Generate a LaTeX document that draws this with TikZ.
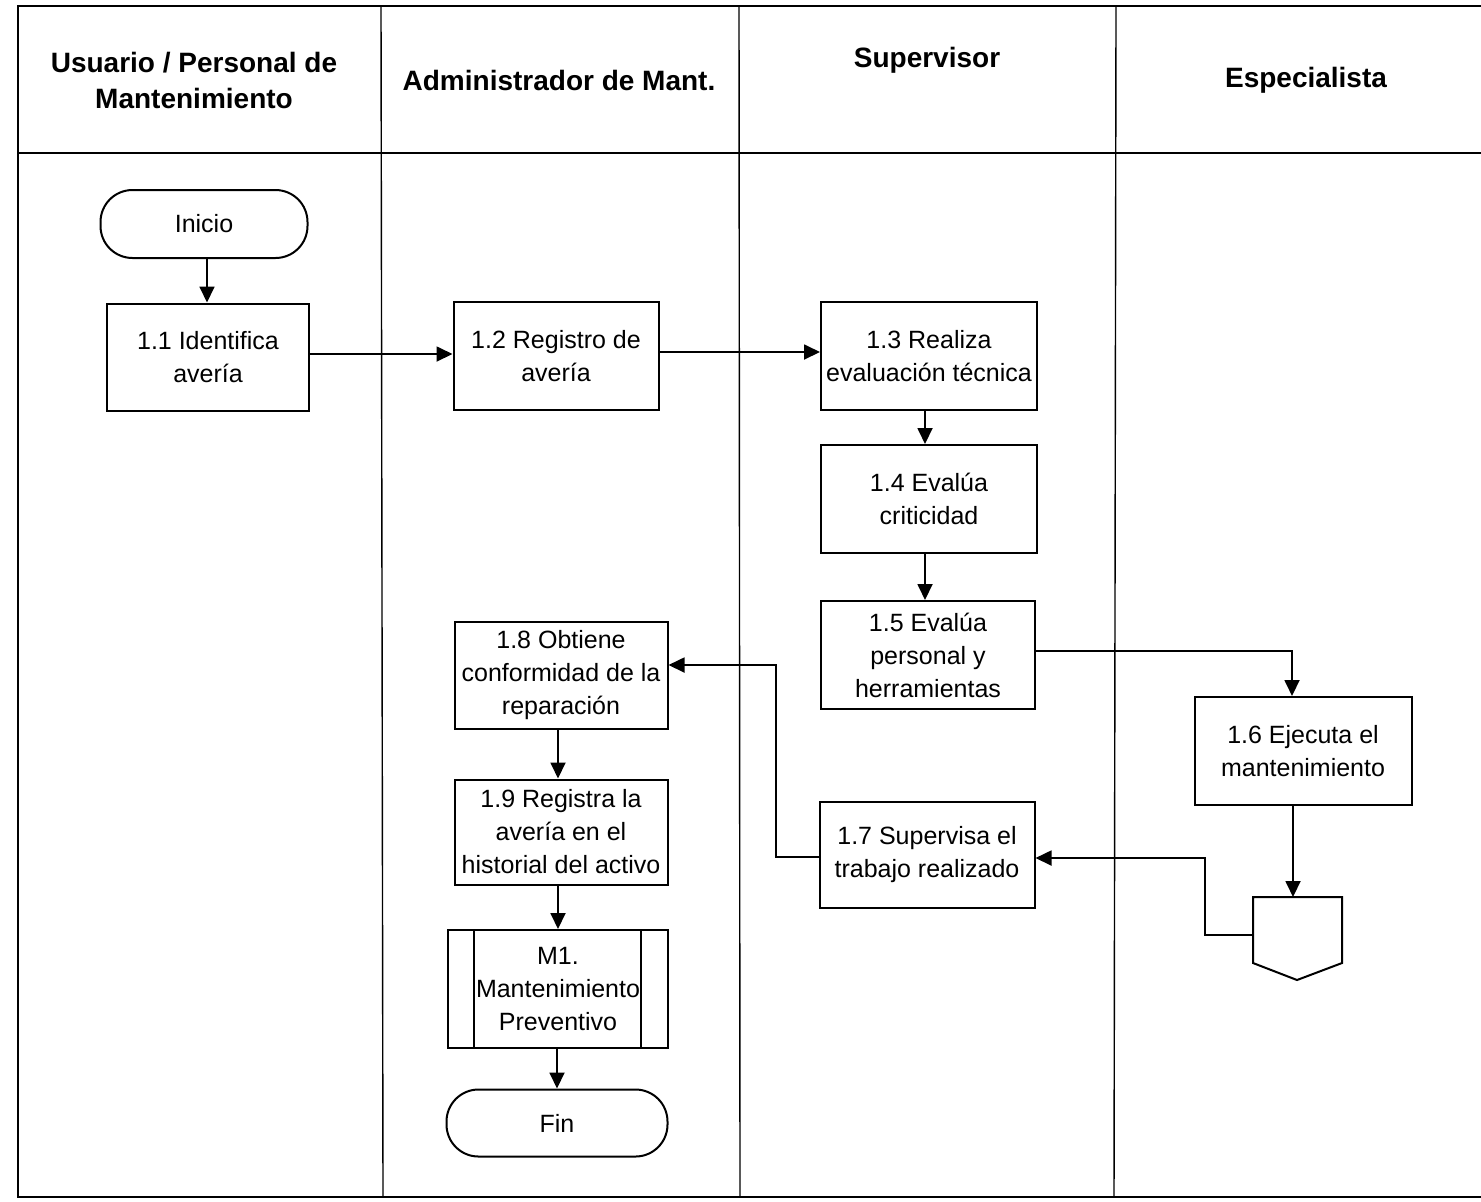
\documentclass[tikz,border=0pt]{standalone}
\usepackage{fontspec}
\setmainfont{Liberation Sans}
\usetikzlibrary{arrows.meta}
\begin{document}
\begin{tikzpicture}[x=0.5pt,y=-0.5pt,
  frame/.style={line width=1pt},
  lane/.style={line width=0.7pt},
  hdr/.style={font=\fontsize{14}{18}\selectfont\bfseries, align=center},
  stepbox/.style={draw, line width=1pt, align=center, inner sep=0pt,
    font=\fontsize{12.5}{16.5}\selectfont},
  term/.style={stepbox, rounded corners=16pt},
  flow/.style={line width=0.9pt, -{Triangle[length=8pt,width=7.5pt]}},
  plain/.style={line width=0.9pt}
]
\useasboundingbox (0,0) rectangle (1481,1201);

% swimlane frame
\draw[frame] (1481,6) -- (18,6) -- (18,1197) -- (1481,1197);
\draw[frame] (18,153) -- (1481,153);
\draw[lane] (381,6) -- (383,1197);
\draw[lane] (739,6) -- (740,1197);
\draw[lane] (1116,6) -- (1114,1197);

% lane headers
\node[hdr] (h1) at (194,80) {Usuario / Personal de\\Mantenimiento};
\node[hdr] (h2) at (559,80) {Administrador de Mant.};
\node[hdr] (h3) at (927,60) {Supervisor};
\node[hdr] (h4) at (1306,80) {Especialista};

% process steps
\node[term, minimum width=103.5pt, minimum height=34pt] (ini) at (204,224) {Inicio};
\node[stepbox, minimum width=101pt, minimum height=53.5pt] (s11) at (208,357) {1.1 Identifica\\avería};
\node[stepbox, minimum width=102.5pt, minimum height=54pt] (s12) at (556,356) {1.2 Registro de\\avería};
\node[stepbox, minimum width=108pt, minimum height=54pt] (s13) at (929,356) {1.3 Realiza\\evaluación técnica};
\node[stepbox, minimum width=108pt, minimum height=54pt] (s14) at (929,499) {1.4 Evalúa\\criticidad};
\node[stepbox, minimum width=107pt, minimum height=54pt] (s15) at (928,655) {1.5 Evalúa\\personal y\\herramientas};
\node[stepbox, minimum width=108.5pt, minimum height=54pt] (s16) at (1303,751) {1.6 Ejecuta el\\mantenimiento};
\node[stepbox, minimum width=107.5pt, minimum height=53pt] (s17) at (927,855) {1.7 Supervisa el\\trabajo realizado};
\node[stepbox, minimum width=106.5pt, minimum height=53.5pt] (s18) at (561,675) {1.8 Obtiene\\conformidad de la\\reparación};
\node[stepbox, minimum width=106.5pt, minimum height=52.5pt] (s19) at (561,832) {1.9 Registra la\\avería en el\\historial del activo};
\node[stepbox, minimum width=110pt, minimum height=59pt] (m1) at (558,989) {M1.\\Mantenimiento\\Preventivo};
\draw[line width=0.8pt] (474,930) -- (474,1048) (641,930) -- (641,1048);
\node[term, minimum width=110.5pt, minimum height=33.5pt] (fin) at (557,1123) {Fin};

% off-page connector
\draw[line width=1pt] (1253,897) -- (1342,897) -- (1342,963) -- (1297,980) -- (1253,963) -- cycle;
\coordinate (opctop) at (1293,897);
\coordinate (opcleft) at (1253,935);

% connectors
\draw[flow] (ini.south -| 207,0) -- (s11.north -| 207,0);
\draw[flow] (s11.east |- 0,354) -- (s12.west |- 0,354);
\draw[flow] (s12.east |- 0,352) -- (s13.west |- 0,352);
\draw[flow] (s13.south -| 925,0) -- (s14.north -| 925,0);
\draw[flow] (s14.south -| 925,0) -- (s15.north -| 925,0);
\draw[flow] (s15.east |- 0,651) -| (s16.north -| 1292,0);
\draw[flow] (s16.south -| 1293,0) -- (opctop);
\draw[flow] (opcleft) -- (1205,935) -- (1205,858) -- (s17.east |- 0,858);
\draw[flow] (s17.west |- 0,857) -- (776,857) -- (776,665) -- (s18.east |- 0,665);
\draw[flow] (s18.south -| 558,0) -- (s19.north -| 558,0);
\draw[flow] (s19.south -| 558,0) -- (m1.north -| 558,0);
\draw[flow] (m1.south -| 557,0) -- (fin.north -| 557,0);
\end{tikzpicture}
\end{document}
